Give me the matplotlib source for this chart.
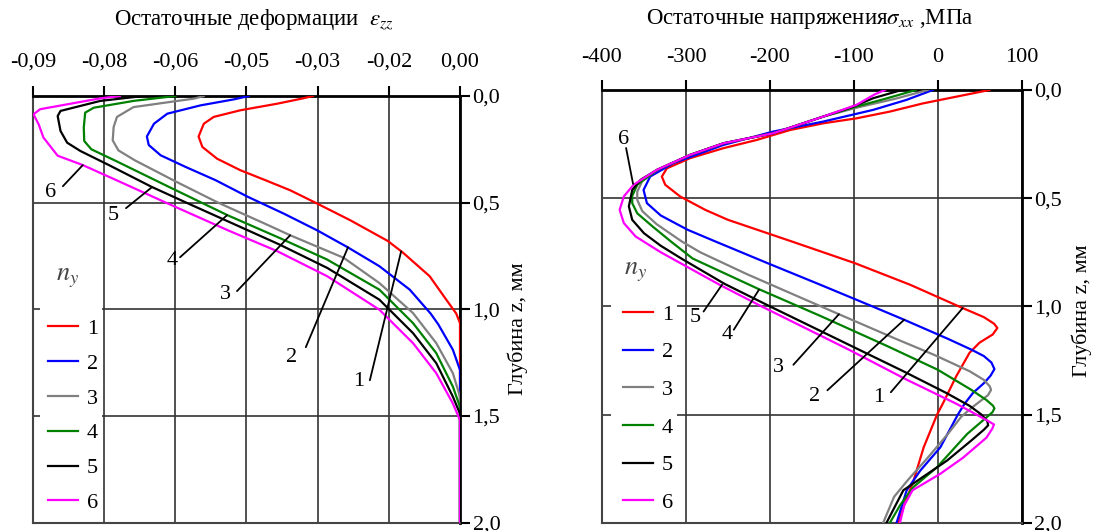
import matplotlib
matplotlib.use("Agg")
import matplotlib.pyplot as plt
from matplotlib.patches import Rectangle

plt.rcParams['font.family'] = ['Liberation Serif', 'DejaVu Serif']
plt.rcParams['mathtext.fontset'] = 'stix'

# ---------------- data: left panel (residual strain eps_zz vs depth z) -------------
z1 = [0.0, 0.012, 0.036, 0.067, 0.098, 0.13, 0.19, 0.239, 0.294, 0.348, 0.395, 0.442, 0.50, 0.583, 0.68, 0.735, 0.845, 0.955, 1.02, 1.065, 2.0]
e1 = [-0.0310, -0.0333, -0.0385, -0.0463, -0.0519, -0.0540, -0.0551, -0.0543, -0.0512, -0.0463, -0.0410, -0.0358, -0.0305, -0.0231, -0.0152, -0.0120, -0.0064, -0.0029, -0.0008, 0.0, 0.0]

z2 = [0.0, 0.016, 0.044, 0.083, 0.13, 0.19, 0.23, 0.278, 0.333, 0.395, 0.473, 0.552, 0.63, 0.709, 0.798, 0.908, 1.02, 1.07, 1.19, 1.285, 2.0]
e2 = [-0.0445, -0.0477, -0.0547, -0.0617, -0.0645, -0.0660, -0.0656, -0.0631, -0.0578, -0.0515, -0.0447, -0.0371, -0.0301, -0.0237, -0.0170, -0.0106, -0.0062, -0.0046, -0.0015, 0.0, 0.0]

z3 = [0.0, 0.012, 0.052, 0.098, 0.145, 0.208, 0.255, 0.302, 0.40, 0.50, 0.60, 0.653, 0.759, 0.877, 1.018, 1.159, 1.30, 1.41, 2.0]
e3 = [-0.0540, -0.0560, -0.0688, -0.0723, -0.0730, -0.0732, -0.0720, -0.0685, -0.0600, -0.0510, -0.0410, -0.0358, -0.0245, -0.0170, -0.0099, -0.0050, -0.0015, 0.0, 0.0]

z4 = [0.0, 0.023, 0.055, 0.078, 0.148, 0.211, 0.25, 0.305, 0.43, 0.559, 0.665, 0.767, 0.908, 1.065, 1.206, 1.363, 1.458, 2.0]
e4 = [-0.0600, -0.0688, -0.0772, -0.0790, -0.0793, -0.0792, -0.0777, -0.0725, -0.0610, -0.0490, -0.0381, -0.0280, -0.0170, -0.0099, -0.0050, -0.0015, 0.0, 0.0]

z5 = [0.0, 0.023, 0.07, 0.094, 0.164, 0.219, 0.258, 0.324, 0.426, 0.50, 0.592, 0.696, 0.806, 0.955, 1.112, 1.253, 1.41, 1.49, 2.0]
e5 = [-0.0667, -0.0758, -0.0842, -0.0848, -0.0842, -0.0828, -0.0800, -0.0740, -0.0650, -0.0577, -0.0485, -0.0381, -0.0280, -0.0170, -0.0099, -0.0050, -0.0015, 0.0, 0.0]

z6 = [0.0, 0.011, 0.039, 0.062, 0.086, 0.133, 0.195, 0.28, 0.324, 0.40, 0.50, 0.629, 0.728, 0.845, 1.002, 1.159, 1.30, 1.442, 1.52, 2.0]
e6 = [-0.0717, -0.0758, -0.0828, -0.0885, -0.0899, -0.0888, -0.0878, -0.0848, -0.0795, -0.0719, -0.0620, -0.0490, -0.0385, -0.0280, -0.0170, -0.0099, -0.0050, -0.0015, 0.0, 0.0]

# ---------------- data: right panel (residual stress sigma_xx vs depth z) ----------
w1 = [0.0, 0.031, 0.062, 0.10, 0.131, 0.154, 0.185, 0.231, 0.269, 0.315, 0.362, 0.40, 0.438, 0.492, 0.554, 0.60, 0.70, 0.80, 0.90, 1.0, 1.05, 1.08, 1.10, 1.13, 1.168, 1.215, 1.324, 1.449, 1.5, 1.652, 1.805, 1.927, 2.0]
s1 = [61.6, 21.9, -17.7, -57.3, -96.9, -136.5, -176, -215.8, -255.4, -295, -322.7, -328.7, -324.7, -306.9, -277, -250, -174, -99, -33, 25, 55, 67, 71, 65.5, 49.7, 37.8, 21.9, 6.1, -0.8, -16.8, -28.8, -40.8, -46.8]

w2 = [0.0, 0.046, 0.092, 0.146, 0.192, 0.254, 0.338, 0.40, 0.462, 0.523, 0.58, 0.646, 0.70, 0.80, 0.90, 1.0, 1.062, 1.15, 1.20, 1.23, 1.26, 1.29, 1.32, 1.355, 1.40, 1.45, 1.5, 1.652, 1.76, 1.85, 2.0]
s2 = [-5.8, -37.5, -77.1, -136.5, -196, -255.4, -314.8, -342.6, -350.5, -346.5, -330, -298, -265, -203, -140, -78, -40, 12, 40, 55, 64, 67.5, 63, 55, 42, 32, 24, 3, -21, -37, -49]

w3 = [0.0, 0.04, 0.08, 0.123, 0.20, 0.246, 0.30, 0.369, 0.42, 0.47, 0.508, 0.56, 0.62, 0.70, 0.75, 0.85, 0.95, 1.036, 1.15, 1.223, 1.30, 1.34, 1.37, 1.386, 1.41, 1.44, 1.47, 1.51, 1.59, 1.70, 1.80, 1.88, 2.0]
s3 = [-12, -50, -95, -136.5, -196, -255, -295, -334, -352, -358, -358, -352, -335, -305, -283, -228, -169, -118, -50, -5, 38, 55, 62, 63.5, 60, 50, 40, 28, 12, -12, -35, -52, -65]

w4 = [0.0, 0.04, 0.08, 0.123, 0.20, 0.246, 0.30, 0.369, 0.438, 0.49, 0.523, 0.57, 0.63, 0.70, 0.779, 0.919, 1.044, 1.184, 1.293, 1.386, 1.433, 1.46, 1.472, 1.49, 1.52, 1.59, 1.744, 1.835, 1.92, 2.0]
s4 = [-26, -62, -100, -136.5, -196, -255, -295, -334, -358, -364, -364, -358, -340, -318, -292, -214, -140, -60, 0, 40, 58, 66, 67.5, 65, 56, 35, -1, -29, -45, -57]

w5 = [0.0, 0.038, 0.077, 0.123, 0.20, 0.246, 0.30, 0.369, 0.415, 0.462, 0.538, 0.60, 0.662, 0.72, 0.78, 0.896, 1.0, 1.1, 1.2, 1.3, 1.4, 1.46, 1.5, 1.53, 1.55, 1.57, 1.62, 1.713, 1.85, 2.0]
s5 = [-43, -77, -101, -136.5, -196, -255, -295, -334.6, -354, -364, -368, -364, -350, -330, -305, -254, -200, -147, -94, -41, 10, 38, 52, 59, 60, 55, 40, 11, -41, -61]

w6 = [0.0, 0.02, 0.069, 0.123, 0.20, 0.246, 0.30, 0.369, 0.438, 0.492, 0.554, 0.615, 0.677, 0.75, 0.81, 0.90, 1.0, 1.1, 1.2, 1.339, 1.45, 1.50, 1.53, 1.546, 1.565, 1.607, 1.70, 1.774, 1.85, 1.92, 2.0]
s6 = [-63, -75, -97, -136.5, -196, -255, -295, -334.6, -362.4, -374, -379, -374, -360, -330, -302, -260, -210, -158, -106, -37, 22, 46, 60, 67, 65, 58, 30, 3, -30, -40, -45]

series_names = ['1', '2', '3', '4', '5', '6']
colors = ['#ff0000', '#0000ff', '#808080', '#008000', '#000000', '#ff00ff']

left_x_ticks = [-0.09, -0.075, -0.06, -0.045, -0.03, -0.015, 0.0]
left_x_labels = ['-0,09', '-0,08', '-0,06', '-0,05', '-0,03', '-0,02', '0,00']
right_x_ticks = [-400, -300, -200, -100, 0, 100]
right_x_labels = ['-400', '-300', '-200', '-100', '0', '100']
y_ticks = [0.0, 0.5, 1.0, 1.5, 2.0]
y_labels = ['0,0', '0,5', '1,0', '1,5', '2,0']

# curve labels: (text position, leader start, leader end) in data coords
left_marks = [
    ('6', (-0.0864, 0.451), (-0.0837, 0.423), (-0.0795, 0.324)),
    ('5', (-0.0731, 0.559), (-0.0704, 0.526), (-0.0649, 0.427)),
    ('4', (-0.0607, 0.770), (-0.0590, 0.756), (-0.0491, 0.559)),
    ('3', (-0.0495, 0.930), (-0.0470, 0.915), (-0.0358, 0.653)),
    ('2', (-0.0354, 1.225), (-0.0325, 1.178), (-0.0236, 0.709)),
    ('1', (-0.0213, 1.338), (-0.0190, 1.333), (-0.0124, 0.728)),
]
right_marks = [
    ('6', (-374.9, 0.231), (-371.3, 0.268), (-363.0, 0.434)),
    ('5', (-288.9, 1.053), (-279.0, 1.024), (-257.0, 0.900)),
    ('4', (-250.7, 1.131), (-243.0, 1.108), (-213.0, 0.923)),
    ('3', (-189.7, 1.283), (-172.0, 1.270), (-117.7, 1.036)),
    ('2', (-146.7, 1.417), (-131.5, 1.388), (-40.0, 1.062)),
    ('1', (-70.3, 1.422), (-55.9, 1.397), (29.7, 1.008)),
]

W, H = 1096, 531
fig = plt.figure(figsize=(W / 100, H / 100), dpi=100)
ax1 = fig.add_axes([33 / W, (H - 522.5) / H, 427 / W, 426.5 / H])
ax2 = fig.add_axes([602 / W, (H - 522.7) / H, 419.7 / W, 432.7 / H])

FS = 16


def style(ax, xlim, xticks, xlabels, xpad):
    ax.set_xlim(*xlim)
    ax.set_ylim(2.0, 0.0)
    ax.set_xticks(xticks)
    ax.set_xticklabels(xlabels)
    ax.set_yticks(y_ticks)
    ax.set_yticklabels(y_labels)
    ax.xaxis.set_ticks_position('top')
    ax.yaxis.set_ticks_position('right')
    ax.tick_params(axis='x', direction='out', length=7, width=1.5, pad=xpad,
                   labelsize=FS, top=True, bottom=False, labeltop=True, labelbottom=False)
    ax.tick_params(axis='y', direction='out', length=7, width=1.5, pad=2,
                   labelsize=FS, right=True, left=False, labelright=True, labelleft=False)
    ax.grid(True, color='#333333', lw=1.2)
    for s in ['top', 'right']:
        ax.spines[s].set_color('black')
        ax.spines[s].set_linewidth(2.0)
    for s in ['left', 'bottom']:
        ax.spines[s].set_color('#444444')
        ax.spines[s].set_linewidth(1.5)


style(ax1, (-0.09, 0.0), left_x_ticks, left_x_labels, 10.5)
style(ax2, (-400, 100), right_x_ticks, right_x_labels, 9.5)

left_data = [(e1, z1), (e2, z2), (e3, z3), (e4, z4), (e5, z5), (e6, z6)]
right_data = [(s1, w1), (s2, w2), (s3, w3), (s4, w4), (s5, w5), (s6, w6)]

h1 = []
for (x, y), c, n in zip(left_data, colors, series_names):
    ln, = ax1.plot(x, y, color=c, lw=1.6, label=n, zorder=3)
    h1.append(ln)
h2 = []
for (x, y), c, n in zip(right_data, colors, series_names):
    ln, = ax2.plot(x, y, color=c, lw=1.6, label=n, zorder=3)
    h2.append(ln)

for ax, marks in ((ax1, left_marks), (ax2, right_marks)):
    for lab, tpos, st, en in marks:
        ax.annotate('', xy=en, xytext=st,
                    arrowprops=dict(arrowstyle='-', lw=1.3, color='black',
                                    shrinkA=0, shrinkB=0), zorder=4)
        ax.text(tpos[0], tpos[1], lab, ha='center', va='center', fontsize=FS, zorder=4)

# legend backgrounds (hide grid behind the legend)
ax1.add_patch(Rectangle((0.0164, 0.0106), 0.145, 0.535, transform=ax1.transAxes,
                        facecolor='white', edgecolor='none', zorder=1.7))
ax2.add_patch(Rectangle((0.0214, 0.011), 0.157, 0.538, transform=ax2.transAxes,
                        facecolor='white', edgecolor='none', zorder=1.7))

ax1.text(0.082, 0.573, '$n_y$', transform=ax1.transAxes, ha='center', va='center',
         fontsize=19, color='#444444', zorder=4)
ax2.text(0.079, 0.579, '$n_y$', transform=ax2.transAxes, ha='center', va='center',
         fontsize=19, color='#444444', zorder=4)

ax1.legend(handles=h1, loc='upper left', bbox_to_anchor=(0.0351, 0.479), borderaxespad=0,
           borderpad=0, frameon=False, handlelength=1.35, handletextpad=0.4,
           labelspacing=0.645, fontsize=FS)
ax2.legend(handles=h2, loc='upper left', bbox_to_anchor=(0.050, 0.505), borderaxespad=0,
           borderpad=0, frameon=False, handlelength=1.35, handletextpad=0.4,
           labelspacing=0.77, fontsize=FS)

ax1.text(1.136, 0.455, 'Глубина z, мм', rotation=90, transform=ax1.transAxes,
         ha='center', va='center', fontsize=FS)
ax2.text(1.144, 0.49, 'Глубина z, мм', rotation=90, transform=ax2.transAxes,
         ha='center', va='center', fontsize=FS)

fig.text(254 / W, 1 - 19 / H, 'Остаточные деформации  $\\varepsilon_{zz}$',
         ha='center', va='center', fontsize=16.5)
fig.text(810 / W, 1 - 19 / H, 'Остаточные напряжения$\\sigma_{xx}$ ,МПа',
         ha='center', va='center', fontsize=16.5)

fig.savefig('out.png', dpi=100)
